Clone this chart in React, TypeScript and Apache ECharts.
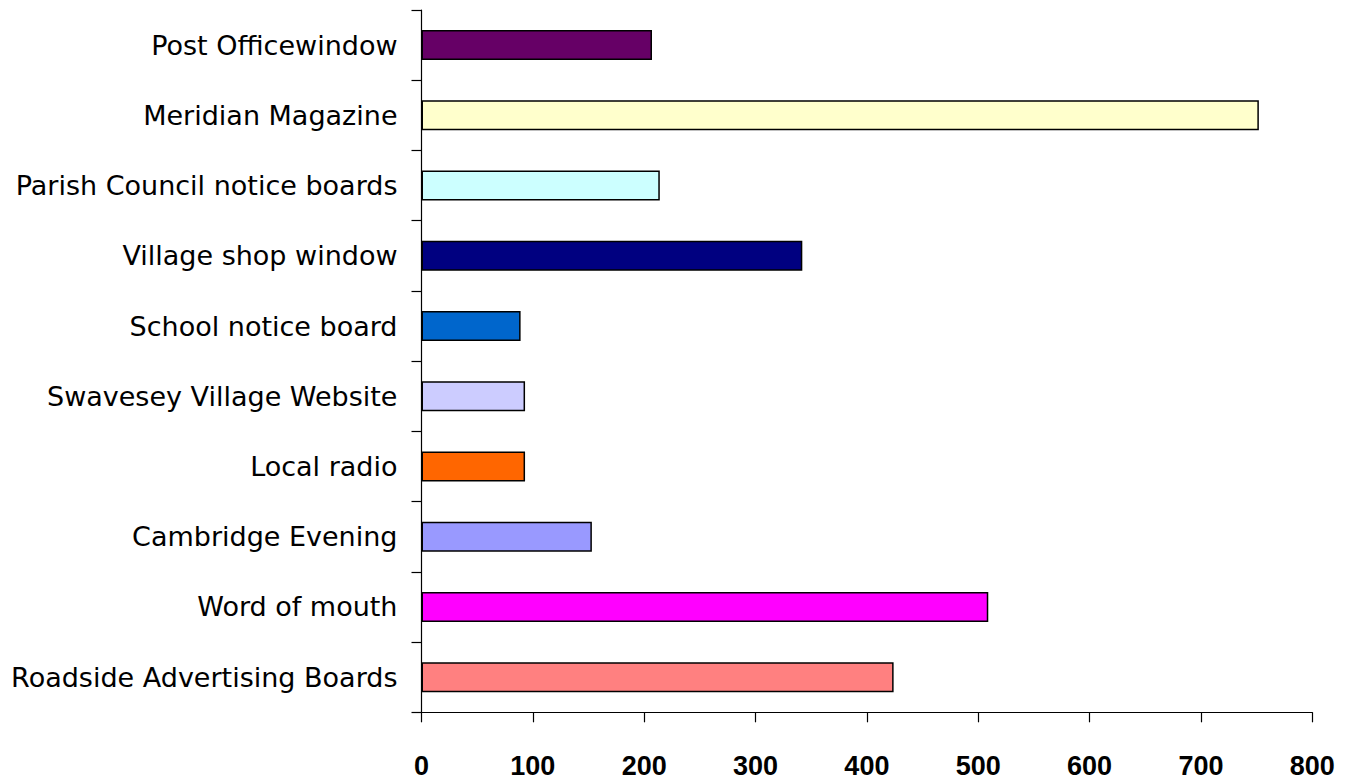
import React, { useEffect, useRef } from "react";
import * as echarts from "echarts";

const categories = [
  "Post Officewindow",
  "Meridian Magazine",
  "Parish Council notice boards",
  "Village shop window",
  "School notice board",
  "Swavesey Village Website",
  "Local radio",
  "Cambridge Evening",
  "Word of mouth",
  "Roadside Advertising Boards",
];
const values = [207, 752, 214, 342, 89, 93, 93, 153, 509, 424];
const colors = [
  "#660066",
  "#FFFFCC",
  "#CCFFFF",
  "#000080",
  "#0066CC",
  "#CCCCFF",
  "#FF6600",
  "#9999FF",
  "#FF00FF",
  "#FF8080",
];

export default function App() {
  const ref = useRef<HTMLDivElement>(null);
  useEffect(() => {
    if (!ref.current) return;
    const chart = echarts.init(ref.current, undefined, { renderer: "svg" });
    chart.setOption({
      animation: false,
      backgroundColor: "#ffffff",
      grid: { left: 421.5, right: 41.7, top: 10, bottom: 71.7, containLabel: false },
      xAxis: {
        type: "value",
        min: 0,
        max: 800,
        interval: 100,
        axisLine: { show: true, lineStyle: { color: "#000", width: 1.2 } },
        axisTick: { show: true, length: 10, lineStyle: { color: "#000", width: 1.2 } },
        splitLine: { show: false },
        axisLabel: {
          margin: 40,
          color: "#000",
          fontFamily: "Liberation Sans, Arial, sans-serif",
          fontSize: 27,
          fontWeight: "bold",
        },
      },
      yAxis: {
        type: "category",
        inverse: true,
        data: categories,
        axisLine: { show: true, lineStyle: { color: "#000", width: 1.2 } },
        axisTick: { show: true, length: 10, lineStyle: { color: "#000", width: 1.2 } },
        axisLabel: {
          margin: 24,
          color: "#000",
          fontFamily: "DejaVu Sans, sans-serif",
          fontSize: 27,
        },
      },
      series: [
        {
          type: "bar",
          barWidth: 30,
          data: values.map((v, i) => ({
            value: v,
            itemStyle: { color: colors[i], borderColor: "#000", borderWidth: 1.5 },
          })),
        },
      ],
    });
    return () => chart.dispose();
  }, []);
  return (
    <div
      ref={ref}
      style={{ position: "fixed", left: 0, top: 0, width: 1354, height: 784, background: "#fff" }}
    />
  );
}
